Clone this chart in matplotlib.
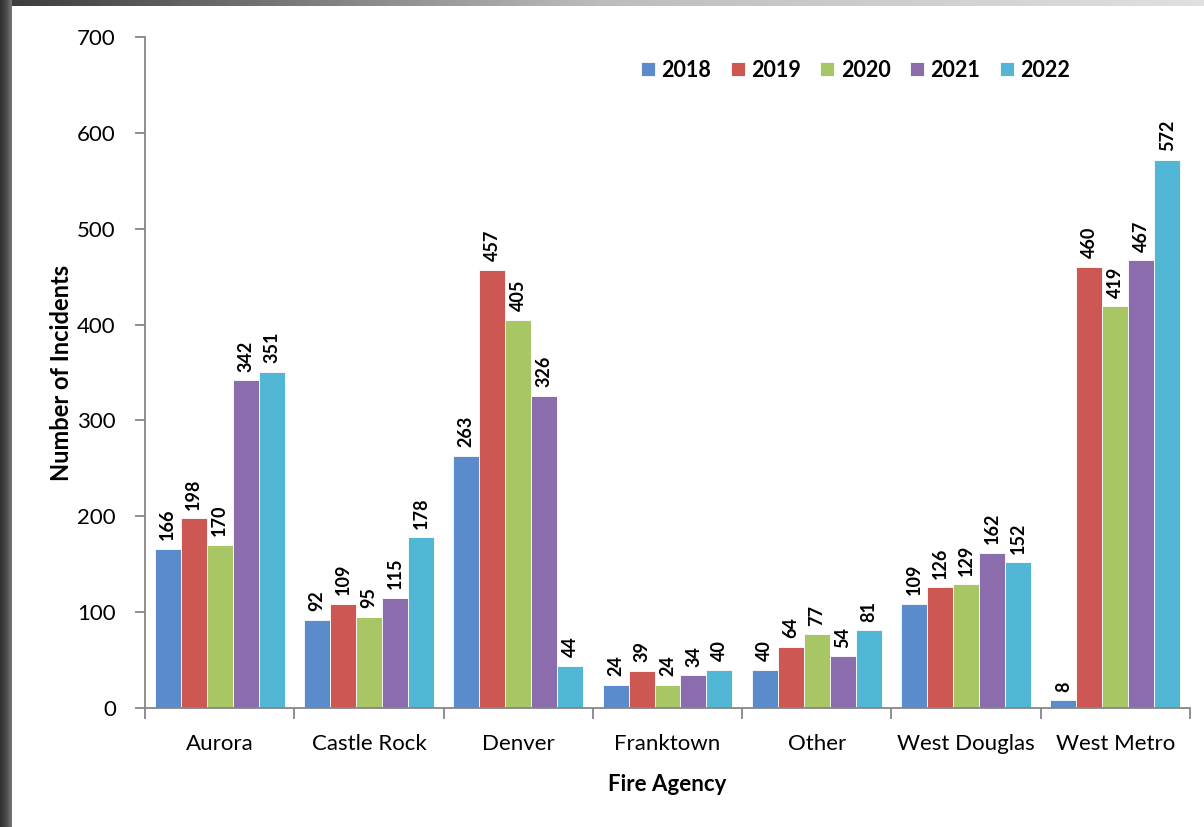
import matplotlib
matplotlib.use("Agg")
import matplotlib.pyplot as plt
import numpy as np
from matplotlib.colors import LinearSegmentedColormap

categories = ["Aurora", "Castle Rock", "Denver", "Franktown", "Other", "West Douglas", "West Metro"]
years = ["2018", "2019", "2020", "2021", "2022"]
v2018 = [166, 92, 263, 24, 40, 109, 8]
v2019 = [198, 109, 457, 39, 64, 126, 460]
v2020 = [170, 95, 405, 24, 77, 129, 419]
v2021 = [342, 115, 326, 34, 54, 162, 467]
v2022 = [351, 178, 44, 40, 81, 152, 572]
series = [v2018, v2019, v2020, v2021, v2022]
colors = ["#598BCD", "#CD5753", "#A8C663", "#8B6CAD", "#52B7D5"]

plt.rcParams['font.family'] = ['Lato', 'DejaVu Sans']

fig = plt.figure(figsize=(12.04, 8.27), dpi=100)
fig.patch.set_facecolor("white")

# frame decoration (dark left strip, gradient top strip)
grad = np.linspace(0, 1, 256).reshape(1, -1)
cmap_top = LinearSegmentedColormap.from_list("t", ["#3a3a3a", "#bdbdbd", "#e0e0e0"])
ax_top = fig.add_axes([0, 1 - 6/827, 1, 6/827])
ax_top.imshow(grad, aspect="auto", cmap=cmap_top)
ax_top.axis("off")
cmap_left = LinearSegmentedColormap.from_list("l", ["#2e2e2e", "#4a4a4a", "#777777"])
ax_left = fig.add_axes([0, 0, 11/1204, 1])
ax_left.imshow(grad, aspect="auto", cmap=cmap_left)
ax_left.axis("off")

ax = fig.add_axes([145/1204, 1 - 708/827, (1190 - 145)/1204, (708 - 37)/827])
n = len(categories)
x = np.arange(n)
bw = 0.174
for i, (vals, c, yr) in enumerate(zip(series, colors, years)):
    pos = x + (i - 2) * bw
    ax.bar(pos, vals, width=bw, color=c, edgecolor="white", linewidth=0.6, label=yr)
    for p, v in zip(pos, vals):
        ax.text(p, v + 9, str(v), rotation=90, ha="center", va="bottom",
                fontsize=13, fontweight="bold", color="black")

ax.set_xlim(-0.5, n - 0.5)
ax.set_ylim(0, 700)
ax.set_yticks(range(0, 701, 100))
ax.set_xticks(x)
ax.set_xticklabels(categories)
ax.set_xticks(np.arange(-0.5, n, 1), minor=True)
ax.tick_params(axis="x", which="major", length=0, pad=19, labelsize=16)
ax.tick_params(axis="x", which="minor", length=8, width=1.3, color="#868686", direction="out")
ax.tick_params(axis="y", length=7, width=1.3, color="#868686", direction="out", labelsize=16, pad=14)
for s in ["top", "right"]:
    ax.spines[s].set_visible(False)
for s in ["left", "bottom"]:
    ax.spines[s].set_color("#868686")
    ax.spines[s].set_linewidth(1.3)

ax.set_xlabel("Fire Agency", fontsize=16, fontweight="bold", labelpad=14)
ax.set_ylabel("Number of Incidents", fontsize=17, fontweight="bold", labelpad=3)

ax.legend(loc="upper center", bbox_to_anchor=(0.68, 0.995), ncol=5, frameon=False,
          handlelength=0.65, handleheight=0.65, handletextpad=0.3, columnspacing=0.9,
          prop={"weight": "bold", "size": 15.5})

fig.savefig("out.png", dpi=100)
